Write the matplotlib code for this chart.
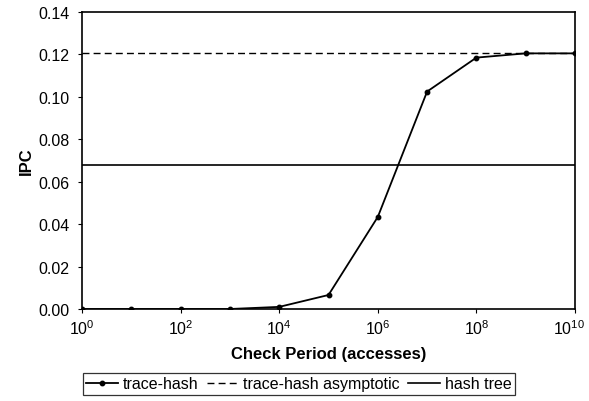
import math
import matplotlib
matplotlib.use("Agg")
import matplotlib.pyplot as plt
import matplotlib.transforms as mtransforms
from matplotlib.ticker import FixedLocator, FuncFormatter

plt.rcParams['font.family'] = ['Liberation Sans', 'DejaVu Sans']
plt.rcParams['mathtext.fontset'] = 'custom'
plt.rcParams['mathtext.rm'] = 'Liberation Sans'
plt.rcParams['mathtext.it'] = 'Liberation Sans:italic'
plt.rcParams['mathtext.bf'] = 'Liberation Sans:bold'

# Check period (accesses) and measured IPC
check_period = [1e0, 1e1, 1e2, 1e3, 1e4, 1e5, 1e6, 1e7, 1e8, 1e9, 1e10]
trace_hash = [0.0, 0.0, 0.0, 0.0, 0.001, 0.0066, 0.0434, 0.1025, 0.1185, 0.1205, 0.1205]
trace_hash_asymptotic = 0.1207
hash_tree = 0.0679

x_ticks = [1e0, 1e2, 1e4, 1e6, 1e8, 1e10]
y_ticks = [0.00, 0.02, 0.04, 0.06, 0.08, 0.10, 0.12, 0.14]

fig = plt.figure(figsize=(5.89, 4.02), dpi=100)
ax = fig.add_axes([82 / 589, 1 - 310 / 402, (575 - 82) / 589, (310 - 13) / 402])

ax.plot(check_period, trace_hash, color='black', lw=1.3, marker='o', ms=3.2,
        label='trace-hash')
ax.axhline(trace_hash_asymptotic, color='black', lw=1.0, ls=(0, (5, 3)),
           label='trace-hash asymptotic')
ax.axhline(hash_tree, color='black', lw=1.2, label='hash tree')

ax.set_xscale('log')
ax.set_xlim(1e0, 1e10)
ax.set_ylim(0, 0.14)
ax.xaxis.set_major_locator(FixedLocator(x_ticks))
ax.xaxis.set_minor_locator(FixedLocator([]))
ax.xaxis.set_major_formatter(
    FuncFormatter(lambda v, p: r'$\mathregular{10^{%d}}$' % round(math.log10(v))))
ax.set_yticks(y_ticks)
ax.set_yticklabels([f'{v:.2f}' for v in y_ticks])

for s in ax.spines.values():
    s.set_linewidth(1.2)
ax.tick_params(axis='both', direction='out', length=3, width=0.8, labelsize=11.5)
ax.tick_params(axis='y', pad=6)
ax.tick_params(axis='x', pad=4)

# keep the rightmost decade label inside the canvas
last = ax.get_xticklabels()[-1]
last.set_transform(last.get_transform() +
                   mtransforms.ScaledTranslation(-6 / 100, 0, fig.dpi_scale_trans))

ax.set_ylabel('IPC', fontsize=12, fontweight='bold', labelpad=3)
ax.set_xlabel('Check Period (accesses)', fontsize=12, fontweight='bold', labelpad=6)

leg = fig.legend(loc='center', bbox_to_anchor=(299 / 589, 1 - 385 / 402), ncol=3,
                 fontsize=11.5, frameon=True, fancybox=False, edgecolor='black',
                 handlelength=2.0, handletextpad=0.3, columnspacing=0.5,
                 borderpad=0.2, borderaxespad=0)
leg.get_frame().set_linewidth(0.9)

fig.savefig('out.png', dpi=100)
